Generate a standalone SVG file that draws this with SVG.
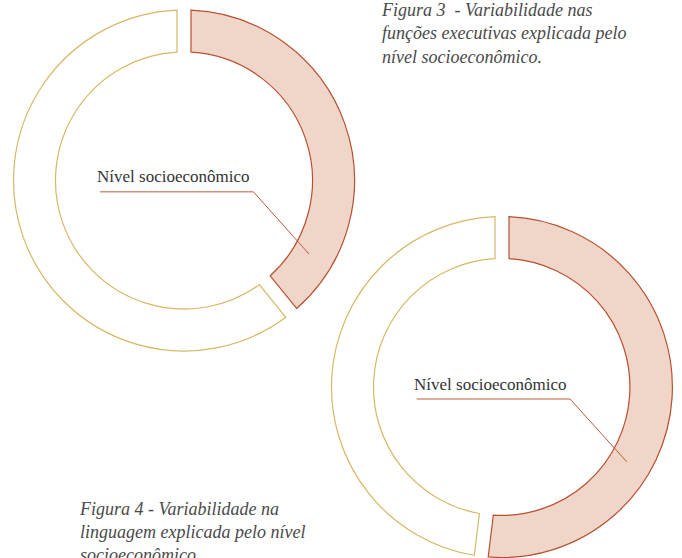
<svg xmlns="http://www.w3.org/2000/svg" width="682" height="558" viewBox="0 0 682 558">
<style>
.pink{fill:#f0d6c9;stroke:#b8502f;stroke-width:1.2}
.yel{fill:#ffffff;stroke:#d6b864;stroke-width:1.2}
.lbl{font-family:"Liberation Serif","DejaVu Serif",serif;font-size:17px;fill:#333333}
.cap{font-family:"Liberation Serif","DejaVu Serif",serif;font-style:italic;font-size:18px;fill:#4a4a4a}
.lh{fill:none;stroke:#d9907c;stroke-width:1.6}
.ld{fill:none;stroke:#bf5738;stroke-width:1}
</style>
<rect width="682" height="558" fill="#ffffff"/>
<g id="ring1">
<path id="ring1-pink" class="pink" d="M191,10.14 A170.5 170.5 0 0 1 296.63,308.5 L270.17,275.82 A128.5 128.5 0 0 0 191,52.19 Z"/>
<path id="ring1-rest" class="yel" d="M285.79,317.29 A170.5 170.5 0 1 1 177,10.14 L177,52.19 A128.5 128.5 0 1 0 259.29,284.64 Z"/>
</g>
<g id="ring2">
<path id="ring2-pink" class="pink" d="M509,216.64 A170.5 170.5 0 1 1 488.19,556.94 L493.31,515.21 A128.5 128.5 0 1 0 509,258.69 Z"/>
<path id="ring2-rest" class="yel" d="M474.29,555.23 A170.5 170.5 0 0 1 495,216.64 L495,258.69 A128.5 128.5 0 0 0 479.42,513.5 Z"/>
</g>
<g id="connectors">
<line class="lh" x1="100" y1="191.7" x2="253.3" y2="191.7"/>
<line class="ld" x1="253.3" y1="191.7" x2="309" y2="254"/>
<line class="lh" x1="416.7" y1="399" x2="570" y2="399"/>
<line class="ld" x1="570" y1="399" x2="626.7" y2="461.7"/>
</g>
<g id="label1"><text class="lbl" x="97" y="182">Nível socioeconômico</text></g>
<g id="label2"><text class="lbl" x="414" y="390">Nível socioeconômico</text></g>
<g id="caption3">
<text class="cap" x="382" y="15.5" xml:space="preserve">Figura 3  - Variabilidade nas</text>
<text class="cap" x="382" y="39">funções executivas explicada pelo</text>
<text class="cap" x="382" y="62.5">nível socioeconômico.</text>
</g>
<g id="caption4">
<text class="cap" x="80" y="515">Figura 4 - Variabilidade na</text>
<text class="cap" x="80" y="538">linguagem explicada pelo nível</text>
<text class="cap" x="80" y="561">socioeconômico.</text>
</g>
</svg>
